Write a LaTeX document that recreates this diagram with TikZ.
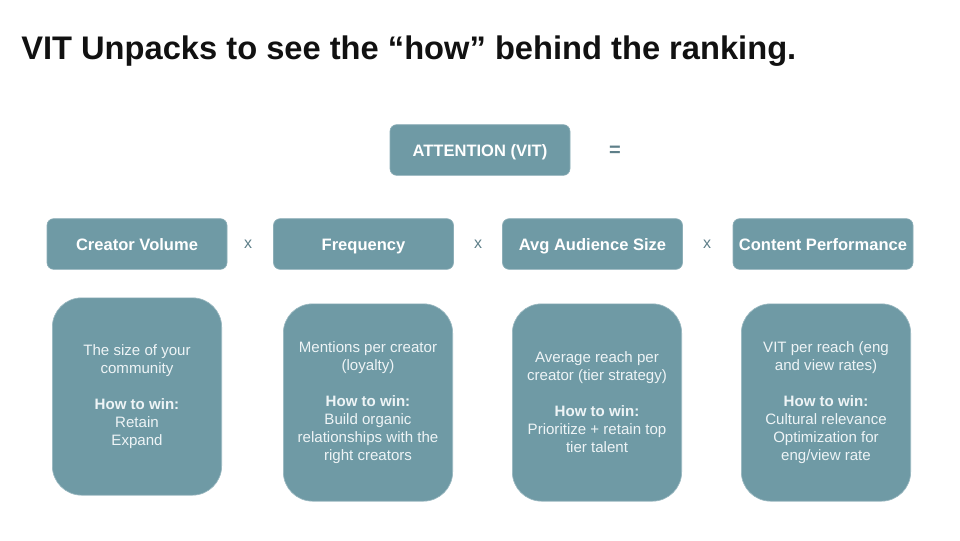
\documentclass[tikz,border=0pt]{standalone}
\usepackage{fontspec}
\setmainfont{Liberation Sans}
\usetikzlibrary{positioning}
\definecolor{slate}{HTML}{6F9AA5}
\definecolor{ink}{HTML}{111111}
\definecolor{pale}{HTML}{EEF4F6}
\definecolor{opgray}{HTML}{5E7F89}

\begin{document}
\begin{tikzpicture}[
    x=0.75pt, y=-0.75pt,
    H/.style={rectangle, rounded corners=5pt, fill=slate, draw=slate!80!white, line width=0.5pt,
              minimum width=135pt, minimum height=38pt, text=white,
              text height=12pt, text depth=2.5pt,
              font=\fontsize{12.4}{14}\selectfont\bfseries},
    D/.style={rectangle, rounded corners=22pt, fill=slate, draw=slate!70!white, line width=0.5pt,
              minimum width=127pt, minimum height=148pt, text=pale, align=center,
              font=\fontsize{11.3}{13.5}\selectfont},
    Op/.style={text=opgray, font=\fontsize{12}{14}\selectfont}
]
\useasboundingbox (0,0) rectangle (960,540);

% === TITLE ===
\node[anchor=west, inner sep=0pt, text=ink, font=\fontsize{24.5}{28}\selectfont\bfseries] (title) at (21,51)
    {VIT Unpacks to see the “how” behind the ranking.};

% === RESULT ===
\node[H] (att) at (480,150) {ATTENTION (VIT)};
\node[Op, font=\fontsize{15}{16}\selectfont\bfseries] (eq) at (615,151) {=};

% === FACTORS ===
\node[H] (cv) at (137,244) {Creator Volume};
\node[H] (fr) at (363.5,244) {Frequency};
\node[H] (aas) at (592.5,244) {Avg Audience Size};
\node[H] (cp) at (823,244) {Content Performance};

\node[Op] (x1) at (248,244) {x};
\node[Op] (x2) at (478,244) {x};
\node[Op] (x3) at (707,244) {x};

% === DETAILS ===
\node[D] (dcv) at (137,396.5) {The size of your\\community\\[13.5pt]
    \textbf{How to win:}\\Retain\\Expand};
\node[D] (dfr) at (368,402.5) {Mentions per creator\\(loyalty)\\[13.5pt]
    \textbf{How to win:}\\Build organic\\relationships with the\\right creators};
\node[D] (daas) at (597,402.5) {Average reach per\\creator (tier strategy)\\[13.5pt]
    \textbf{How to win:}\\Prioritize + retain top\\tier talent};
\node[D] (dcp) at (826,402.5) {VIT per reach (eng\\and view rates)\\[13.5pt]
    \textbf{How to win:}\\Cultural relevance\\Optimization for\\eng/view rate};

\end{tikzpicture}
\end{document}
